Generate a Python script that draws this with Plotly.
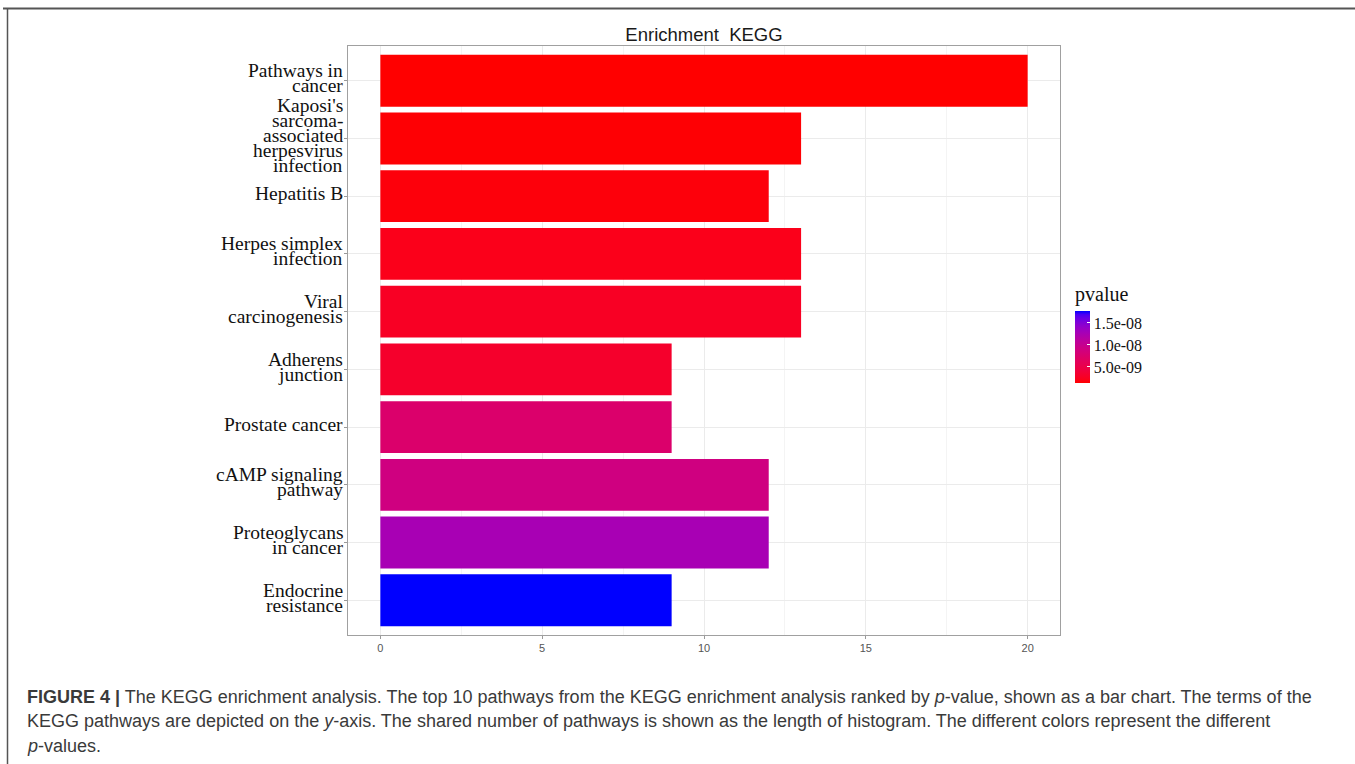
import plotly.graph_objects as go

# ---------------- data ----------------
pathways = [
    "Pathways in<br>cancer",
    "Kaposi's<br>sarcoma-<br>associated<br>herpesvirus<br>infection",
    "Hepatitis B",
    "Herpes simplex<br>infection",
    "Viral<br>carcinogenesis",
    "Adherens<br>junction",
    "Prostate cancer",
    "cAMP signaling<br>pathway",
    "Proteoglycans<br>in cancer",
    "Endocrine<br>resistance",
]
counts = [20, 13, 12, 13, 13, 9, 9, 12, 12, 9]
pvalues = [1.36e-9, 1.5e-9, 1.7e-9, 2.2e-9, 2.7e-9, 3.1e-9, 7.4e-9, 8.9e-9, 1.26e-8, 1.77e-8]
x_ticks = [0, 5, 10, 15, 20]
cbar_ticks = [5e-9, 1e-8, 1.5e-8]
cbar_ticktext = ["5.0e-09", "1.0e-08", "1.5e-08"]

# ---------------- colour scale (Lab interpolation red -> blue, like ggplot) ----------------
def srgb_to_lin(c):
    c = c / 255.0
    return c / 12.92 if c <= 0.04045 else ((c + 0.055) / 1.055) ** 2.4

def lin_to_srgb(c):
    c = max(0.0, min(1.0, c))
    v = 12.92 * c if c <= 0.0031308 else 1.055 * c ** (1 / 2.4) - 0.055
    return int(round(max(0, min(1, v)) * 255))

WX, WY, WZ = 0.95047, 1.0, 1.08883

def f(t):
    return t ** (1 / 3) if t > 0.008856 else 7.787 * t + 16 / 116

def finv(t):
    return t ** 3 if t ** 3 > 0.008856 else (t - 16 / 116) / 7.787

def rgb_to_lab(rgb):
    r, g, b = [srgb_to_lin(c) for c in rgb]
    X = 0.4124 * r + 0.3576 * g + 0.1805 * b
    Y = 0.2126 * r + 0.7152 * g + 0.0722 * b
    Z = 0.0193 * r + 0.1192 * g + 0.9505 * b
    fx, fy, fz = f(X / WX), f(Y / WY), f(Z / WZ)
    return (116 * fy - 16, 500 * (fx - fy), 200 * (fy - fz))

def lab_to_rgb(lab):
    L, a, b = lab
    fy = (L + 16) / 116
    fx = fy + a / 500
    fz = fy - b / 200
    X, Y, Z = WX * finv(fx), WY * finv(fy), WZ * finv(fz)
    r = 3.2406 * X - 1.5372 * Y - 0.4986 * Z
    g = -0.9689 * X + 1.8758 * Y + 0.0415 * Z
    bb = 0.0557 * X - 0.2040 * Y + 1.0570 * Z
    return (lin_to_srgb(r), lin_to_srgb(g), lin_to_srgb(bb))

low_lab = rgb_to_lab((255, 0, 0))
high_lab = rgb_to_lab((0, 0, 255))
N = 20
colorscale = []
for i in range(N + 1):
    t = i / N
    lab = tuple(low_lab[k] + (high_lab[k] - low_lab[k]) * t for k in range(3))
    r, g, b = lab_to_rgb(lab)
    colorscale.append([t, f"rgb({r},{g},{b})"])

# ---------------- figure ----------------
W, H = 1355, 764
ML, MR, MT, MB = 348, 295, 46, 129
PW, PH = W - ML - MR, H - MT - MB

def px_x(px):
    return (px - ML) / PW

def px_y(py):
    return (H - MB - py) / PH

serif = "Liberation Serif, Times New Roman, serif"
narrow = "Liberation Sans Narrow, Arial Narrow, Liberation Sans, Arial, sans-serif"
sans = "Liberation Sans, Arial, Helvetica, sans-serif"

fig = go.Figure(
    go.Bar(
        x=counts,
        y=pathways,
        orientation="h",
        width=0.9,
        marker=dict(
            color=pvalues,
            colorscale=colorscale,
            cmin=min(pvalues),
            cmax=max(pvalues),
            line=dict(width=0),
            colorbar=dict(
                title=dict(text="pvalue", side="top", font=dict(family=serif, size=20, color="#111")),
                x=px_x(1075),
                xanchor="left",
                y=px_y(383),
                yanchor="bottom",
                len=100,
                lenmode="pixels",
                thickness=15,
                thicknessmode="pixels",
                outlinewidth=0,
                tickvals=cbar_ticks,
                ticktext=cbar_ticktext,
                ticks="inside",
                ticklen=3,
                tickcolor="white",
                tickfont=dict(family=serif, size=16, color="#111"),
                xpad=0,
                ypad=0,
            ),
        ),
        hovertemplate="%{y}: %{x}<extra></extra>",
    )
)

fig.update_layout(
    width=W,
    height=H,
    margin=dict(l=ML, r=MR, t=MT, b=MB),
    paper_bgcolor="white",
    plot_bgcolor="white",
    showlegend=False,
    title=dict(
        text="Enrichment\u00a0\u00a0KEGG",
        x=704 / W,
        xanchor="center",
        y=1 - 35 / H,
        yanchor="middle",
        font=dict(family=narrow, size=18.5, color="#1a1a1a"),
    ),
    xaxis=dict(
        range=[-1, 21],
        tickvals=x_ticks,
        ticks="outside",
        ticklen=3,
        tickcolor="#999",
        tickfont=dict(family=narrow, size=11, color="#555"),
        showgrid=True,
        gridcolor="#EBEBEB",
        gridwidth=1,
        minor=dict(dtick=2.5, tick0=2.5, showgrid=True, gridcolor="#F4F4F4", gridwidth=1),
        showline=True,
        linecolor="#A0A0A0",
        linewidth=1,
        mirror=True,
        zeroline=False,
        fixedrange=True,
    ),
    yaxis=dict(
        categoryorder="array",
        categoryarray=pathways,
        range=[9.6, -0.6],
        autorange=False,
        showticklabels=False,
        ticks="outside",
        ticklen=3,
        tickcolor="#999",
        showgrid=True,
        gridcolor="#EBEBEB",
        showline=True,
        linecolor="#A0A0A0",
        linewidth=1,
        mirror=True,
        fixedrange=True,
    ),
)

# y tick labels with tight line spacing (one annotation per text line)
LINE = 15
for cat in pathways:
    lines = cat.split("<br>")
    n = len(lines)
    for i, ln in enumerate(lines):
        fig.add_annotation(
            x=0, xref="paper", xanchor="right", xshift=-3,
            y=cat, yref="y", yanchor="middle",
            yshift=((n - 1) / 2 - i) * LINE + 2.5,
            text=ln, showarrow=False,
            font=dict(family=serif, size=19.5, color="#111"),
        )

# caption
caption = [
    "<b>FIGURE 4 |</b> The KEGG enrichment analysis. The top 10 pathways from the KEGG enrichment analysis ranked by <i>p</i>-value, shown as a bar chart. The terms of the",
    "KEGG pathways are depicted on the <i>y</i>-axis. The shared number of pathways is shown as the length of histogram. The different colors represent the different",
    "<i>p</i>-values.",
]
cap_y = [697, 721, 746]
for txt, yy in zip(caption, cap_y):
    fig.add_annotation(
        x=px_x(25), xref="paper", xanchor="left",
        y=px_y(yy), yref="paper", yanchor="middle",
        text=txt, showarrow=False, align="left",
        font=dict(family=sans, size=18, color="#3a3a3a"),
    )

# figure frame (top and left rule)
fig.add_shape(type="line", xref="paper", yref="paper",
              x0=px_x(3), x1=px_x(1356), y0=px_y(8.5), y1=px_y(8.5),
              line=dict(color="#555", width=2))
fig.add_shape(type="line", xref="paper", yref="paper",
              x0=px_x(7.5), x1=px_x(7.5), y0=px_y(8), y1=px_y(766),
              line=dict(color="#555", width=1.5))

fig.write_html(
    "out.html",
    config={"displayModeBar": False},
    post_script="document.body.style.margin='0';document.body.style.overflow='hidden';",
)
